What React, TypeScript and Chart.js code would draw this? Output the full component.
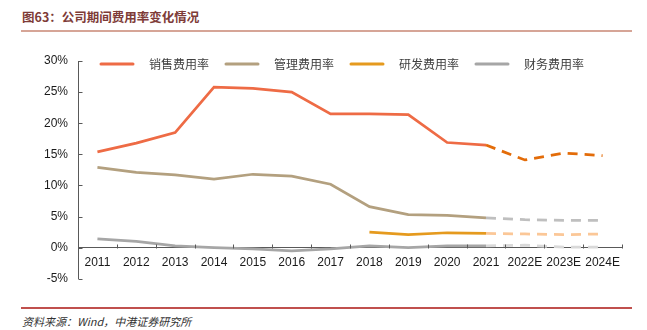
import React, { useEffect, useRef } from "react";
import { Chart, registerables } from "chart.js";

Chart.register(...registerables);

const categories = ["2011", "2012", "2013", "2014", "2015", "2016", "2017", "2018", "2019", "2020", "2021", "2022E", "2023E", "2024E"];
const salesActual = [15.4, 16.8, 18.5, 25.8, 25.6, 25.0, 21.5, 21.5, 21.4, 16.9, 16.5, null, null, null];
const salesForecast = [null, null, null, null, null, null, null, null, null, null, 16.5, 14.1, 15.2, 14.8];
const mgmtActual = [12.9, 12.1, 11.7, 11.0, 11.8, 11.5, 10.2, 6.6, 5.3, 5.2, 4.8, null, null, null];
const mgmtForecast = [null, null, null, null, null, null, null, null, null, null, 4.8, 4.5, 4.4, 4.4];
const rdActual = [null, null, null, null, null, null, null, 2.5, 2.1, 2.4, 2.3, null, null, null];
const rdForecast = [null, null, null, null, null, null, null, null, null, null, 2.3, 2.2, 2.1, 2.2];
const finActual = [1.4, 1.0, 0.3, 0.0, -0.2, -0.5, -0.2, 0.3, 0.0, 0.3, 0.3, null, null, null];
const finForecast = [null, null, null, null, null, null, null, null, null, null, 0.3, 0.4, 0.1, 0.1];
const legendLabels = ["销售费用率", "管理费用率", "研发费用率", "财务费用率"];
const legendColors = ["#EE6B45", "#B3A07F", "#E59A1E", "#A6A6A6"];
const yMin = -5;
const yMax = 30;
const yStep = 5;

const axisPlugin = {
  id: "customDecor",
  afterDraw(chart: any) {
    const ctx = chart.ctx;
    const xs = chart.scales.x;
    const ys = chart.scales.y;
    const ca = chart.chartArea;
    ctx.save();
    const y0 = Math.round(ys.getPixelForValue(0)) + 0.5;
    ctx.strokeStyle = "#595959";
    ctx.lineWidth = 1;
    ctx.beginPath();
    for (let i = 0; i <= categories.length; i++) {
      const x = Math.round(xs.getPixelForValue(i - 0.5)) + 0.5;
      ctx.moveTo(x, y0);
      ctx.lineTo(x, y0 - 4);
    }
    const x0 = Math.round(ca.left) + 0.5;
    for (let v = yMin; v <= yMax; v += yStep) {
      const y = Math.round(ys.getPixelForValue(v)) + 0.5;
      ctx.moveTo(x0, y);
      ctx.lineTo(x0 + 4, y);
    }
    ctx.stroke();
    const ly = ca.top + 3;
    ctx.font = "12px 'Noto Sans CJK SC'";
    ctx.textBaseline = "middle";
    ctx.textAlign = "left";
    for (let i = 0; i < legendLabels.length; i++) {
      const sx = ca.left + 23 + i * 125;
      ctx.strokeStyle = legendColors[i];
      ctx.lineWidth = 3;
      ctx.lineCap = "round";
      ctx.beginPath();
      ctx.moveTo(sx, ly);
      ctx.lineTo(sx + 32, ly);
      ctx.stroke();
      ctx.fillStyle = "#404040";
      ctx.fillText(legendLabels[i], sx + 48, ly);
    }
    ctx.restore();
  },
};

export default function App() {
  const ref = useRef<HTMLCanvasElement | null>(null);
  useEffect(() => {
    if (!ref.current) return;
    const mk = (data: any[], color: string, dashed: boolean) => ({
      data,
      borderColor: color,
      backgroundColor: color,
      borderWidth: 2.75,
      pointRadius: 0,
      pointHoverRadius: 0,
      tension: 0,
      spanGaps: false,
      borderDash: dashed ? [10, 7] : [],
      fill: false,
    });
    const chart = new Chart(ref.current, {
      type: "line",
      data: {
        labels: categories,
        datasets: [
          mk(finForecast, "#D9D9D9", true),
          mk(rdForecast, "#FBC797", true),
          mk(mgmtForecast, "#BFBFBF", true),
          mk(salesForecast, "#E36C09", true),
          mk(finActual, "#A6A6A6", false),
          mk(rdActual, "#E59A1E", false),
          mk(mgmtActual, "#B3A07F", false),
          mk(salesActual, "#EE6B45", false),
        ],
      },
      options: {
        animation: false,
        responsive: false,
        maintainAspectRatio: false,
        layout: { padding: { left: 0, right: 25, top: 21, bottom: 7 } },
        plugins: { legend: { display: false }, tooltip: { enabled: false } },
        scales: {
          x: {
            type: "category",
            offset: true,
            position: { y: 0 } as any,
            afterFit: (s: any) => {
              s.height = 0;
            },
            grid: { display: true, drawOnChartArea: false, drawTicks: false, offset: true },
            border: { display: true, color: "#595959", width: 1 },
            ticks: {
              color: "#1a1a1a",
              font: { family: "'Liberation Sans', Arial", size: 12 },
              padding: 8,
              maxRotation: 0,
              autoSkip: false,
            },
          },
          y: {
            min: yMin,
            max: yMax,
            afterFit: (s: any) => {
              s.width = 78;
            },
            grid: { display: true, drawOnChartArea: false, drawTicks: false },
            border: { display: true, color: "#595959", width: 1 },
            ticks: {
              stepSize: yStep,
              color: "#1a1a1a",
              font: { family: "'Liberation Sans', Arial", size: 12 },
              padding: 10,
              callback: (v: any) => `${v}%`,
            },
          },
        },
      },
      plugins: [axisPlugin],
    });
    return () => chart.destroy();
  }, []);

  return (
    <div style={{ position: "absolute", left: 0, top: 0, width: 647, height: 330, background: "#fff" }}>
      <div
        style={{
          position: "absolute",
          left: 22,
          top: 8,
          fontFamily: "'Noto Sans CJK SC', sans-serif",
          fontWeight: "bold",
          fontSize: 12.5,
          color: "#7E3B37",
          lineHeight: "18px",
          whiteSpace: "nowrap",
        }}
      >
        图63：公司期间费用率变化情况
      </div>
      <div style={{ position: "absolute", left: 21, top: 30, width: 611, height: 2, background: "#D6A597" }} />
      <canvas ref={ref} width={647} height={256} style={{ position: "absolute", left: 0, top: 40, width: 647, height: 256 }} />
      <div style={{ position: "absolute", left: 21, top: 307, width: 611, height: 1.5, background: "#C0504D" }} />
      <div
        style={{
          position: "absolute",
          left: 22,
          top: 313,
          fontFamily: "'Noto Sans CJK SC', sans-serif",
          fontStyle: "italic",
          fontSize: 11,
          color: "#333",
          lineHeight: "16px",
          whiteSpace: "nowrap",
        }}
      >
        资料来源：Wind，中港证券研究所
      </div>
    </div>
  );
}
